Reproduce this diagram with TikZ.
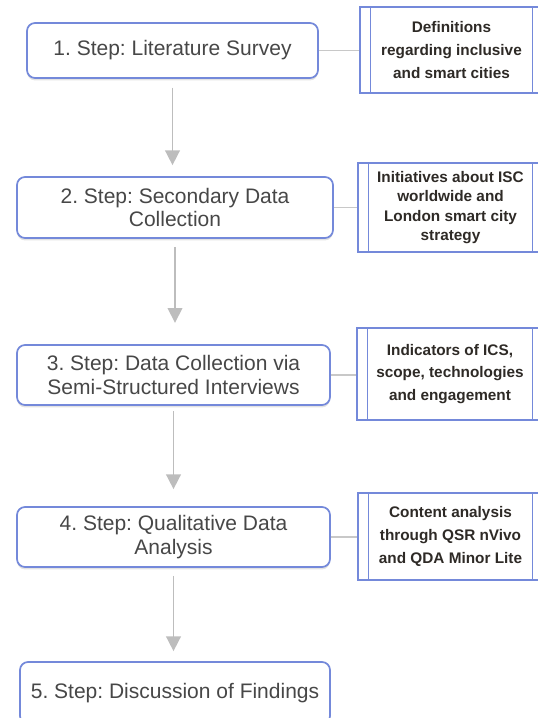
\documentclass[tikz,border=0pt]{standalone}
\usepackage{fontspec}
\setmainfont{Liberation Sans}
\frenchspacing
\usetikzlibrary{arrows.meta,shadows}
\definecolor{bordblue}{HTML}{7489DA}
\definecolor{txtgray}{HTML}{474747}
\definecolor{txtdark}{HTML}{2E2A26}
\definecolor{linegray}{HTML}{C8C8C8}
\definecolor{arrowgray}{HTML}{BDBDBD}
\begin{document}
\frenchspacing
\begin{tikzpicture}[x=0.75pt,y=-0.75pt,
  stepbox/.style={draw=bordblue, line width=1.3pt, rounded corners=6pt, fill=white,
    align=center, text=txtgray, inner sep=0pt,
    font=\fontsize{15.75}{17.5}\selectfont,
    drop shadow={shadow xshift=0pt, shadow yshift=-1.8pt, opacity=0.22}},
  notebox/.style={draw=bordblue, line width=1pt, fill=white, align=center,
    text=txtdark, inner sep=0pt, font=\bfseries\fontsize{11.5}{17}\selectfont},
  innerline/.style={draw=bordblue, line width=1pt},
  link/.style={draw=linegray, line width=1.1pt},
  flow/.style={draw=arrowgray, line width=1.2pt,
    -{Triangle[width=11pt,length=11pt]}}]
\useasboundingbox (0,0) rectangle (537,718);

% main steps
\node[stepbox, minimum width=291*0.75pt, minimum height=55*0.75pt] (b1) at (172.5,50.5)
  {1. Step: Literature Survey};
\node[stepbox, minimum width=316*0.75pt, minimum height=61*0.75pt] (b2) at (175,207.5)
  {2. Step: Secondary Data\\Collection};
\node[stepbox, minimum width=313*0.75pt, minimum height=60*0.75pt] (b3) at (173.5,375)
  {3. Step: Data Collection via\\Semi-Structured Interviews};
\node[stepbox, minimum width=313*0.75pt, minimum height=60*0.75pt] (b4) at (173.5,537)
  {4. Step: Qualitative Data\\Analysis};
\node[stepbox, minimum width=310*0.75pt, minimum height=62*0.75pt] (b5) at (175,693)
  {5. Step: Discussion of Findings};

% side notes
\node[notebox, minimum width=183*0.75pt, minimum height=86*0.75pt] (r1) at (451.5,50)
  {Definitions\\regarding inclusive\\and smart cities};
\node[notebox, minimum width=185*0.75pt, minimum height=89*0.75pt,
  font=\bfseries\fontsize{11.5}{14.6}\selectfont] (r2) at (450.5,207.5)
  {Initiatives about ISC\\worldwide and\\London smart city\\strategy};
\node[notebox, minimum width=186*0.75pt, minimum height=92*0.75pt] (r3) at (450,374)
  {Indicators of ICS,\\scope, technologies\\and engagement};
\node[notebox, minimum width=185*0.75pt, minimum height=87*0.75pt] (r4) at (450.5,536.5)
  {Content analysis\\through QSR nVivo\\and QDA Minor Lite};

\foreach \r in {r1,r2,r3,r4}{
  \draw[innerline] ([xshift=8.25pt]\r.north west) -- ([xshift=8.25pt]\r.south west);
  \draw[innerline] ([xshift=-8.25pt]\r.north east) -- ([xshift=-8.25pt]\r.south east);
}

% links to notes
\draw[link] (b1.east) -- (b1.east -| r1.west);
\draw[link] (b2.east) -- (b2.east -| r2.west);
\draw[link] (b3.east) -- (b3.east -| r3.west);
\draw[link] (b4.east) -- (b4.east -| r4.west);

% flow arrows
\draw[flow, shorten <=6.5pt, shorten >=8.25pt] (b1.south) -- (b1.south |- b2.north);
\draw[flow, shorten <=6pt, shorten >=16pt] (b2.south) -- (b2.south |- b3.north);
\draw[flow, shorten <=4pt, shorten >=12.75pt] (b3.south) -- (b3.south |- b4.north);
\draw[flow, shorten <=6pt, shorten >=7.5pt] (b4.south) -- (b4.south |- b5.north);
\end{tikzpicture}
\end{document}
